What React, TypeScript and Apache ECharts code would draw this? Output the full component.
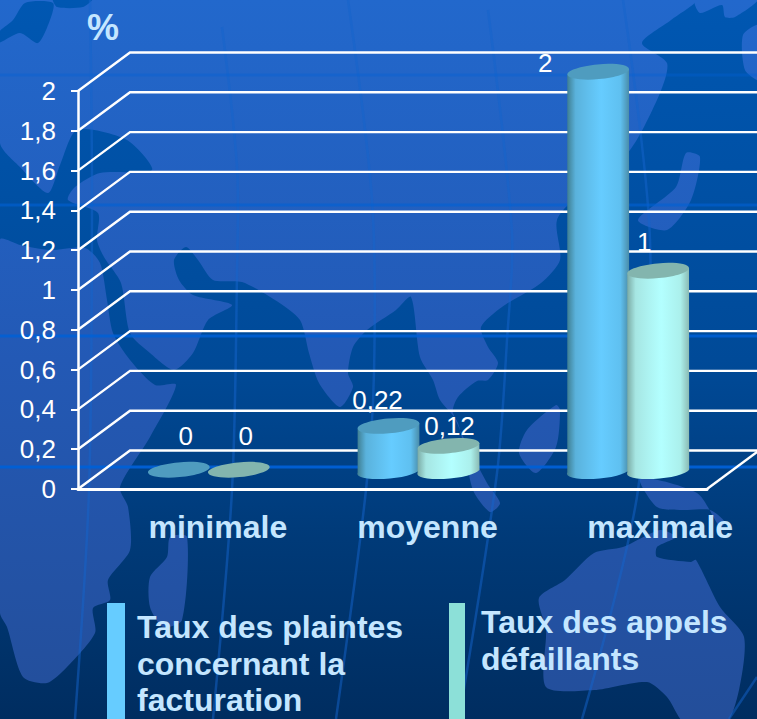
import React, { useEffect, useRef } from "react";
import * as echarts from "echarts";

const categories = ["minimale", "moyenne", "maximale"];
const seriesNames = ["Taux des plaintes\nconcernant la\nfacturation", "Taux des appels\ndéfaillants"];
const plaintes = [0, 0.22, 2];
const appels = [0, 0.12, 1];
const yTicks = [0, 0.2, 0.4, 0.6, 0.8, 1, 1.2, 1.4, 1.6, 1.8, 2];
const labelOffsets = [
  [[7, -34], [-11, -26], [-53, -9]],
  [[7, -34], [1, -20], [-14, -29]],
];

const DX = 52;
const DY = -38.5;
const TILT = 0.09;
const RX = 31;
const RY = 7.4;
const FONT = '"Liberation Sans", Arial, sans-serif';
const LIGHT = "#c4e6ff";

type P = [number, number];
const eurasia: P[] = [
  [0, 0], [695, 0], [671, 20], [642, 43], [667, 63], [660, 93], [630, 150], [583, 190], [557, 220], [560, 260],
  [541, 283], [502, 307], [481, 327], [488, 347], [498, 363], [488, 380], [477, 381], [458, 397], [453, 413],
  [487, 483], [500, 503], [490, 512], [473, 490], [458, 423], [440, 400], [433, 380], [420, 357], [411, 297],
  [396, 310], [367, 330], [353, 347], [348, 373], [353, 387], [340, 407], [319, 383], [309, 353], [300, 320],
  [275, 300], [242, 282], [213, 280], [198, 260], [186, 247], [174, 260], [179, 280], [193, 295], [232, 305],
  [208, 320], [193, 353], [174, 370], [150, 353], [130, 333], [121, 283], [104, 257], [97, 240], [98, 213],
  [68, 200], [75, 187], [100, 173], [152, 170], [127, 140], [77, 130], [60, 165], [48, 193], [20, 167], [0, 143],
];
const africa: P[] = [
  [0, 240], [20, 245], [50, 250], [85, 248], [100, 263], [107, 300], [113, 333], [130, 360], [155, 385], [176, 385],
  [150, 437], [120, 487], [128, 507], [130, 550], [108, 580], [110, 600], [93, 608], [95, 633], [67, 667], [47, 683],
  [23, 677], [7, 627], [0, 613],
];
const madagascar: P[] = [[170, 537], [167, 557], [150, 577], [150, 607], [163, 627], [182, 620], [187, 537]];
const borneo: P[] = [[556, 405], [527, 430], [519, 453], [536, 473], [556, 447], [560, 410]];
const japan: P[] = [[686, 153], [676, 187], [638, 220], [667, 230], [691, 200], [700, 157]];
const guinea: P[] = [[640, 478], [697, 493], [720, 527], [725, 522], [710, 510], [686, 510], [657, 507]];
const australia: P[] = [
  [623, 547], [594, 553], [565, 580], [539, 598], [546, 630], [546, 687], [594, 690], [647, 682], [667, 697],
  [686, 725], [725, 725], [739, 690], [744, 637], [720, 607], [696, 560], [691, 562], [657, 557], [657, 547],
  [676, 537], [660, 530],
];
const rightTop: P[] = [[695, 0], [700, 13], [722, 5], [725, 17], [735, 17], [757, 0]];
const rightEdge: P[] = [[760, 25], [743, 35], [745, 70], [760, 80]];
const seaA: P[] = [[-2, 33], [13, 20], [25, 3], [53, 3], [50, 20], [38, 43], [20, 33], [-2, 43]];
const seaB: P[] = [[53, -2], [93, -2], [83, 7], [57, 7]];
const meridians: P[][] = [
  [[90, 0], [92, 200], [89, 490], [75, 719]],
  [[222, 27], [237, 167], [237, 273], [232, 490], [213, 719]],
  [[348, 0], [372, 200], [374, 373], [366, 490], [336, 719]],
  [[488, 10], [512, 233], [507, 340], [497, 473], [459, 719]],
  [[623, 0], [650, 240], [638, 490], [582, 719]],
  [[757, 677], [729, 719]],
];
const parallels = [75, 205, 336, 467];
const parallelOpacity = [0.35, 0.6, 0.85, 0.95];

const ocean = () =>
  new echarts.graphic.LinearGradient(0, 0, 0, 719, [
    { offset: 0, color: "#0057b2" },
    { offset: 0.5, color: "#004a98" },
    { offset: 0.75, color: "#003a78" },
    { offset: 1, color: "#002d60" },
  ], true);
const land = () =>
  new echarts.graphic.LinearGradient(0, 0, 0, 719, [
    { offset: 0, color: "#2268cc" },
    { offset: 0.5, color: "#2359b5" },
    { offset: 1, color: "#234e9a" },
  ], true);

function background(): any[] {
  const out: any[] = [
    { type: "rect", z: -20, silent: true, shape: { x: 0, y: 0, width: 757, height: 719 }, style: { fill: ocean() } },
  ];
  [eurasia, africa, madagascar, borneo, japan, guinea, australia, rightTop, rightEdge].forEach((points) =>
    out.push({ type: "polygon", z: -19, silent: true, shape: { points, smooth: 0.25 }, style: { fill: land() } })
  );
  [seaA, seaB].forEach((points) =>
    out.push({ type: "polygon", z: -18, silent: true, shape: { points, smooth: 0.25 }, style: { fill: ocean() } })
  );
  meridians.forEach((points) =>
    out.push({
      type: "polyline", z: -17, silent: true, shape: { points, smooth: 0.3 },
      style: { stroke: "#1463cc", opacity: 0.5, lineWidth: 2.5, fill: "none" },
    })
  );
  parallels.forEach((y, i) =>
    out.push({
      type: "rect", z: -16, silent: true, shape: { x: 0, y: y - 1.5, width: 757, height: 3 },
      style: { fill: "#0060d6", opacity: parallelOpacity[i] },
    })
  );
  return out;
}

function legendItems(): any[] {
  return [
    { type: "rect", shape: { x: 107, y: 603, width: 18, height: 116 }, style: { fill: "#66ccff" } },
    { type: "rect", shape: { x: 449, y: 603, width: 16, height: 116 }, style: { fill: "#8ce0d8" } },
    {
      type: "text", x: 137, y: 609,
      style: { text: seriesNames[0], fill: LIGHT, font: `bold 32px ${FONT}`, lineHeight: 36.5 },
    },
    {
      type: "text", x: 481, y: 603,
      style: { text: seriesNames[1], fill: LIGHT, font: `bold 32px ${FONT}`, lineHeight: 37 },
    },
  ];
}

function cylinderSeries(
  name: string, values: number[], seriesIndex: number, xShift: number,
  stops: string[], topFill: string
) {
  return {
    type: "custom",
    name,
    z: 5 + seriesIndex,
    clip: false,
    data: values.map((v, i) => [i, v]),
    renderItem(_params: any, api: any) {
      const i = api.value(0);
      const v = api.value(1);
      const base = api.coord([i, 0]);
      const top = api.coord([i, v]);
      const cx = base[0] + DX / 2 + xShift;
      const yb = base[1] + DY / 2;
      const yt = top[1] + DY / 2;
      const c = Math.cos(TILT) * RX;
      const s = Math.sin(TILT) * RX;
      const children: any[] = [];
      if (v > 0) {
        const deg = (-TILT * 180) / Math.PI;
        children.push({
          type: "path",
          shape: {
            pathData:
              `M${cx - c} ${yt + s} L${cx - c} ${yb + s} ` +
              `A${RX} ${RY} ${deg} 0 0 ${cx + c} ${yb - s} L${cx + c} ${yt - s} Z`,
          },
          style: {
            fill: new echarts.graphic.LinearGradient(0, 0, 1, 0, [
              { offset: 0, color: stops[0] },
              { offset: 0.14, color: stops[1] },
              { offset: 0.55, color: stops[2] },
              { offset: 0.86, color: stops[3] },
              { offset: 1, color: stops[4] },
            ]),
          },
        });
      }
      children.push({
        type: "ellipse",
        x: cx, y: yt, rotation: TILT,
        shape: { cx: 0, cy: 0, rx: RX, ry: RY },
        style: { fill: topFill },
      });
      const off = labelOffsets[seriesIndex][i];
      children.push({
        type: "text",
        x: cx + off[0], y: yt + off[1],
        style: {
          text: String(v).replace(".", ","), fill: "#ffffff", font: `26px ${FONT}`,
          align: "center", verticalAlign: "middle",
        },
      });
      return { type: "group", children };
    },
  };
}

function wallSeries() {
  return {
    type: "custom",
    name: "grille",
    z: 1,
    clip: false,
    silent: true,
    data: yTicks.map((v) => [0, v]),
    renderItem(params: any, api: any) {
      const sys = params.coordSys;
      const y = api.coord([0, api.value(1)])[1];
      const x0 = sys.x;
      const x1 = sys.x + sys.width;
      const children: any[] = [
        {
          type: "polyline",
          shape: { points: [[x0, y], [x0 + DX, y + DY], [x1 + DX, y + DY]] },
          style: { stroke: "#ffffff", lineWidth: 2.4, fill: "none" },
        },
      ];
      if (api.value(1) === 0) {
        children.push({
          type: "line",
          shape: { x1, y1: y, x2: x1 + DX, y2: y + DY },
          style: { stroke: "#ffffff", lineWidth: 2.4 },
        });
      }
      return { type: "group", children };
    },
  };
}

export default function App() {
  const ref = useRef<HTMLDivElement>(null);
  useEffect(() => {
    const chart = echarts.init(ref.current!, null, { renderer: "svg" });
    chart.setOption({
      animation: false,
      backgroundColor: "#003a78",
      graphic: { elements: [...background(), ...legendItems()] },
      grid: { left: 78, right: 50, top: 91, bottom: 230 },
      xAxis: {
        type: "category",
        data: categories,
        axisTick: { show: false },
        axisLine: { lineStyle: { color: "#ffffff", width: 3 } },
        axisLabel: {
          interval: 0,
          margin: 22,
          formatter: (value: string, index: number) => `{${index === 2 ? "far" : "near"}|${value}}`,
          rich: {
            near: { fontFamily: FONT, fontWeight: "bold", fontSize: 32, color: LIGHT, padding: [0, 0, 0, 70] },
            far: { fontFamily: FONT, fontWeight: "bold", fontSize: 32, color: LIGHT, padding: [0, 0, 0, 116] },
          },
        },
      },
      yAxis: {
        type: "value",
        min: 0,
        max: 2,
        interval: 0.2,
        name: "%",
        nameLocation: "end",
        nameGap: 64,
        nameTextStyle: {
          fontFamily: FONT, fontWeight: "bold", fontSize: 36, color: LIGHT,
          align: "left", verticalAlign: "middle", padding: [0, 0, 0, 9],
        },
        splitLine: { show: false },
        axisLine: { show: true, lineStyle: { color: "#ffffff", width: 2.5 } },
        axisTick: { show: true, length: 7, lineStyle: { color: "#ffffff", width: 2 } },
        axisLabel: {
          margin: 22,
          color: "#ffffff",
          fontFamily: FONT,
          fontSize: 26,
          formatter: (v: number) => String(Math.round(v * 10) / 10).replace(".", ","),
        },
      },
      series: [
        wallSeries(),
        cylinderSeries(seriesNames[0], plaintes, 0, -30, ["#3e7d90", "#5ab2dc", "#66ccff", "#5fc0f0", "#4a8ca8"], "#4f9cbf"),
        cylinderSeries(seriesNames[1], appels, 1, 30, ["#7aa9a3", "#a6e6e3", "#b3ffff", "#abf0ec", "#8bbab3"], "#83b5ae"),
      ],
    });
    return () => chart.dispose();
  }, []);
  return <div ref={ref} style={{ position: "fixed", left: 0, top: 0, width: 757, height: 719 }} />;
}
